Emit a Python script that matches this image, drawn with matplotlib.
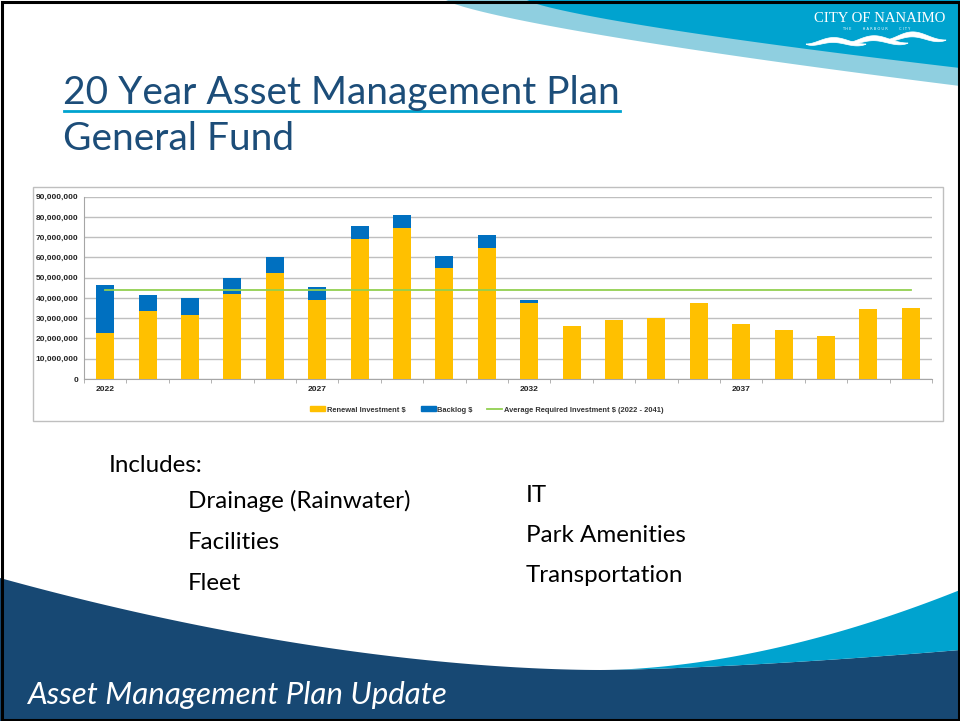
import numpy as np
import matplotlib
matplotlib.use("Agg")
import matplotlib.pyplot as plt
from matplotlib.patches import Polygon, Rectangle, Patch
from matplotlib.lines import Line2D

# ---------------- data ----------------
years = list(range(2022, 2042))
renewal = [22.5, 33.4, 31.4, 41.9, 52.3, 39.0, 69.1, 74.7, 54.8, 64.8,
           37.7, 26.0, 28.9, 29.9, 37.7, 27.1, 24.3, 21.4, 34.4, 35.2]
backlog = [24.0, 8.2, 8.4, 8.1, 8.1, 6.2, 6.2, 6.2, 6.1, 6.1,
           1.1, 0, 0, 0, 0, 0, 0, 0, 0, 0]
avg_required = 43.75
renewal = [v * 1e6 for v in renewal]
backlog = [v * 1e6 for v in backlog]
avg_required = avg_required * 1e6
x_labels = {2022: "2022", 2027: "2027", 2032: "2032", 2037: "2037"}
series_names = ["Renewal Investment $", "Backlog $", "Average Required Investment $ (2022 - 2041)"]

title1 = "20 Year Asset Management Plan"
title2 = "General Fund"
includes = "Includes:"
col1 = ["Drainage (Rainwater)", "Facilities", "Fleet"]
col2 = ["IT", "Park Amenities", "Transportation"]
footer = "Asset Management Plan Update"

YELLOW = "#FFC000"
BLUE = "#0070C0"
GREEN = "#92D050"
NAVY = "#174873"
CYAN = "#00A3CF"
LIGHTCYAN = "#8FCFE0"
TITLE = "#1C4D79"
CHARTFONT = ["Liberation Sans Narrow", "Liberation Sans"]

W, H = 960, 721
fig = plt.figure(figsize=(W / 100, H / 100), dpi=100)
bg = fig.add_axes([0, 0, 1, 1])
bg.set_xlim(0, W)
bg.set_ylim(H, 0)
bg.axis("off")

# ---------- top swoosh ----------
def curve(x0, y0, x1, y1, n=60, p=0.6):
    t = np.linspace(0, 1, n)
    return x0 + (x1 - x0) * t, y0 + (y1 - y0) * (t ** p)

xs, ys = curve(446, 0, 960, 86, p=0.75)
bg.add_patch(Polygon(np.column_stack([np.r_[xs, 960], np.r_[ys, 0]]), closed=True,
                     fc=LIGHTCYAN, ec="none"))
xs, ys = curve(527, 0, 960, 68, p=0.75)
bg.add_patch(Polygon(np.column_stack([np.r_[xs, 960], np.r_[ys, 0]]), closed=True,
                     fc=CYAN, ec="none"))

# logo
bg.text(880, 18, "CITY OF NANAIMO", color="white", family="Liberation Serif",
        fontsize=10.6, ha="center", va="center")
bg.text(876, 29, "T H E          H A R B O U R          C I T Y", color="white",
        family="DejaVu Sans", fontsize=2.6, ha="center", va="center")
for (x0, x1, yb, amp) in [(806, 866, 44, 8), (845, 908, 43, 9), (884, 946, 40, 10)]:
    t = np.linspace(0, 1, 50)
    xx = x0 + (x1 - x0) * t
    top_ = yb - amp * np.sin(np.pi * t) ** 2 * (1.1 - 0.6 * t)
    bot_ = top_ + 5 * np.sin(np.pi * t) ** 0.7
    bg.add_patch(Polygon(np.column_stack([np.r_[xx, xx[::-1]], np.r_[top_, bot_[::-1]]]),
                         closed=True, fc="white", ec="white", lw=0.5))

# ---------- bottom shapes ----------
t = np.linspace(0, 1, 80)
lx = 0 + 600 * t
ly = 578 + (670 - 578) * (1 - (1 - t) ** 1.8)
rx = 600 + 360 * t
ry_low = 670 - 20 * t ** 1.5
ry_up = 670 - 80 * t ** 1.8
navy_pts = np.column_stack([np.r_[lx, rx, 960, 0], np.r_[ly, ry_low, H, H]])
bg.add_patch(Polygon(navy_pts, closed=True, fc=NAVY, ec="none"))
cy_pts = np.column_stack([np.r_[rx, rx[::-1]], np.r_[ry_up, ry_low[::-1]]])
bg.add_patch(Polygon(cy_pts, closed=True, fc=CYAN, ec="none"))

# frame
bg.add_patch(Rectangle((1.5, 1.5), W - 3, H - 3, fill=False, ec="black", lw=2.2))

# ---------- titles & text ----------
bg.text(63, 93, title1, color=TITLE, family="Lato", fontsize=28, ha="left", va="center")
bg.plot([64, 620], [111, 111], color=CYAN, lw=2)
bg.text(63, 139, title2, color=TITLE, family="Lato", fontsize=28, ha="left", va="center")

bg.text(109, 465, includes, family="Lato", fontsize=17.4, ha="left", va="center", color="black")
for i, s in enumerate(col1):
    bg.text(188, 501 + i * 41.5, s, family="Lato", fontsize=17.4, ha="left", va="center", color="black")
for i, s in enumerate(col2):
    bg.text(526, 496 + i * 40, s, family="Lato", fontsize=17.4, ha="left", va="center", color="black")

bg.text(27, 695, footer, family="Lato", style="italic", fontsize=22.5, color="white",
        ha="left", va="center")

# chart frame
bg.add_patch(Rectangle((33, 187), 910, 234, fill=False, ec="#BFBFBF", lw=1))

# ---------- chart ----------
left, right, top, bottom = 84, 932, 196.7, 379
ax = fig.add_axes([left / W, 1 - bottom / H, (right - left) / W, (bottom - top) / H])
ax.set_facecolor("white")
pos = np.arange(len(years))
ax.bar(pos, renewal, width=0.42, color=YELLOW, zorder=3)
ax.bar(pos, backlog, width=0.42, bottom=renewal, color=BLUE, zorder=3)
ax.plot([pos[0], pos[-1]], [avg_required, avg_required], color=GREEN, lw=1.3, zorder=4)
ax.set_xlim(-0.5, len(years) - 0.5)
ax.set_ylim(0, 90e6)
yt = np.arange(0, 90e6 + 1, 10e6)
ax.set_yticks(yt)
ax.set_yticklabels([f"{int(v):,}" for v in yt])
ax.yaxis.grid(True, color="#BFBFBF", lw=1, zorder=0)
ax.tick_params(axis="y", length=0, pad=4, labelsize=6, labelcolor="#222222")
ax.set_xticks([p for p, y in zip(pos, years) if y in x_labels])
ax.set_xticklabels([x_labels[y] for y in years if y in x_labels])
ax.set_xticks(np.arange(-0.5, len(years), 1), minor=True)
ax.tick_params(axis="x", which="major", length=0, pad=5, labelsize=6, labelcolor="#222222")
ax.tick_params(axis="x", which="minor", length=3, color="#A6A6A6")
for lab in ax.get_xticklabels() + ax.get_yticklabels():
    lab.set_family(CHARTFONT); lab.set_weight("bold")
for s in ["top", "right"]:
    ax.spines[s].set_visible(False)
ax.spines["left"].set_color("#A6A6A6")
ax.spines["bottom"].set_color("#A6A6A6")

handles = [Patch(color=YELLOW), Patch(color=BLUE), Line2D([], [], color=GREEN, lw=1.3)]
leg = fig.legend(handles, series_names, loc="center", bbox_to_anchor=(487 / W, 1 - 410 / H),
                 ncol=3, frameon=False,
                 prop={"family": CHARTFONT, "weight": "bold", "size": 5.4},
                 handlelength=2.0, handleheight=0.6, columnspacing=2.0, handletextpad=0.2)
for txt in leg.get_texts():
    txt.set_color("#333333")

fig.savefig("out.png", dpi=100)
